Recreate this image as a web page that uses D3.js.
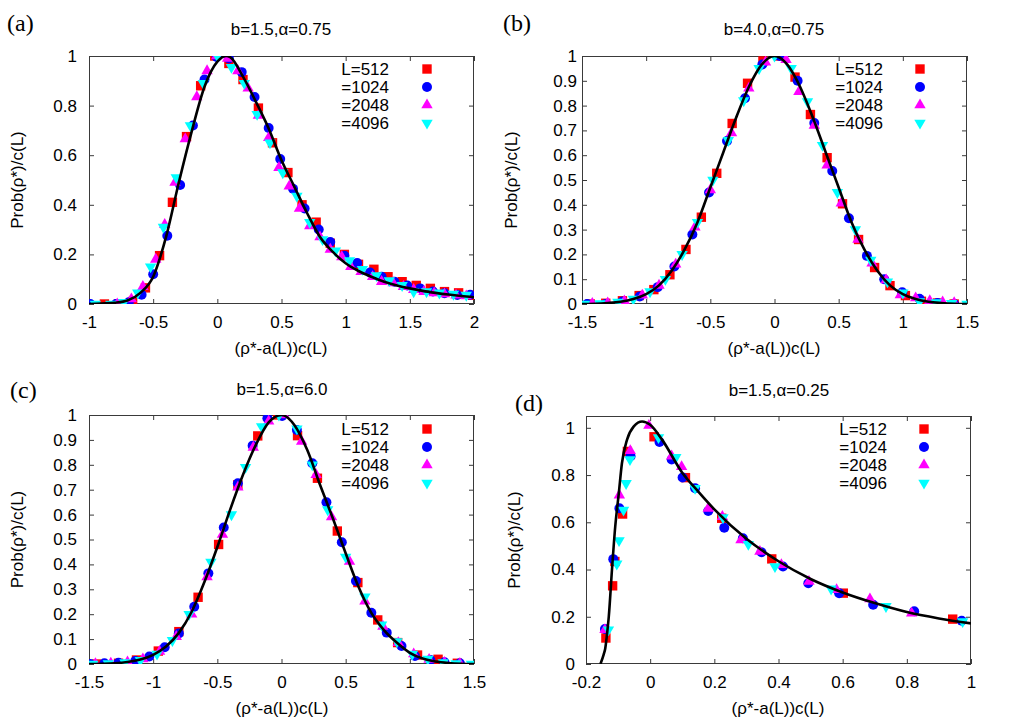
<!DOCTYPE html>
<html><head><meta charset="utf-8">
<script src="https://cdn.jsdelivr.net/npm/d3@7"></script>
<style>body{margin:0;background:#fff}svg{display:block}</style>
</head><body>
<svg id="chart" width="1014" height="723"></svg>
<script>
// ---------------- DATA ----------------
const seriesNames = ["L=512", "=1024", "=2048", "=4096"];
const seriesColors = ["#ff0000", "#0000ff", "#ff00ff", "#00ffff"];
const panelLabels = ["(a)", "(b)", "(c)", "(d)"];
const panelTitles = ["b=1.5,\u03b1=0.75", "b=4.0,\u03b1=0.75", "b=1.5,\u03b1=6.0", "b=1.5,\u03b1=0.25"];
const yAxisLabel = "Prob(\u03c1*)/c(L)";
const xAxisLabel = "(\u03c1*-a(L))c(L)";

const xTicksA = [-1, -0.5, 0, 0.5, 1, 1.5, 2];
const xTicksB = [-1.5, -1, -0.5, 0, 0.5, 1, 1.5];
const xTicksC = [-1.5, -1, -0.5, 0, 0.5, 1, 1.5];
const xTicksD = [-0.2, 0, 0.2, 0.4, 0.6, 0.8, 1];
const yTicksA = [0, 0.2, 0.4, 0.6, 0.8, 1];
const yTicksB = [0, 0.1, 0.2, 0.3, 0.4, 0.5, 0.6, 0.7, 0.8, 0.9, 1];
const yTicksC = [0, 0.1, 0.2, 0.3, 0.4, 0.5, 0.6, 0.7, 0.8, 0.9, 1];
const yTicksD = [0, 0.2, 0.4, 0.6, 0.8, 1];

// Panel (a)  b=1.5, alpha=0.75
const a512 = [[-0.88,0],[-0.77,0],[-0.66,0.01],[-0.56,0.065],[-0.45,0.195],[-0.35,0.41],[-0.24,0.675],[-0.13,0.88],[-0.02,1.0],[0.09,0.97],[0.2,0.905],[0.32,0.79],[0.43,0.65],[0.55,0.53],[0.66,0.40],[0.77,0.33],[0.88,0.245],[0.99,0.2],[1.1,0.16],[1.22,0.14],[1.33,0.11],[1.44,0.09],[1.55,0.075],[1.66,0.063],[1.77,0.05],[1.88,0.045],[1.99,0.035]];
const a1024 = [[-0.99,0],[-0.79,0],[-0.69,0.007],[-0.59,0.037],[-0.5,0.12],[-0.39,0.275],[-0.29,0.48],[-0.19,0.72],[-0.1,0.905],[-0.005,0.996],[0.09,0.99],[0.19,0.935],[0.29,0.835],[0.4,0.71],[0.49,0.585],[0.59,0.465],[0.68,0.385],[0.79,0.3],[0.88,0.25],[0.99,0.195],[1.09,0.165],[1.19,0.127],[1.28,0.11],[1.38,0.09],[1.48,0.075],[1.58,0.063],[1.68,0.05],[1.77,0.043],[1.87,0.036],[1.97,0.037]];
const a2048 = [[-0.78,0],[-0.67,0.02],[-0.58,0.07],[-0.48,0.18],[-0.41,0.32],[-0.33,0.49],[-0.25,0.665],[-0.16,0.835],[-0.08,0.94],[-0.005,1.0],[0.08,0.99],[0.16,0.94],[0.24,0.87],[0.32,0.76],[0.4,0.67],[0.48,0.55],[0.56,0.475],[0.64,0.385],[0.72,0.315],[0.8,0.27],[0.88,0.22],[0.97,0.19],[1.04,0.15],[1.12,0.13],[1.21,0.11],[1.28,0.09],[1.37,0.085],[1.45,0.07],[1.53,0.058],[1.61,0.05],[1.69,0.044],[1.77,0.04],[1.86,0.035],[1.94,0.032]];
const a4096 = [[-0.95,0],[-0.83,0],[-0.73,0.007],[-0.62,0.045],[-0.52,0.15],[-0.42,0.31],[-0.32,0.51],[-0.21,0.72],[-0.11,0.89],[0.0,1.0],[0.11,0.955],[0.21,0.89],[0.31,0.765],[0.41,0.65],[0.51,0.53],[0.62,0.435],[0.72,0.33],[0.82,0.26],[0.92,0.215],[1.03,0.175],[1.13,0.14],[1.24,0.115],[1.34,0.095],[1.44,0.075],[1.53,0.05],[1.63,0.05],[1.73,0.045],[1.84,0.04],[1.94,0.036]];
const aFit = [[-1,0],[-0.9,0.002],[-0.8,0.005],[-0.7,0.014],[-0.6,0.045],[-0.5,0.11],[-0.4,0.27],[-0.3,0.49],[-0.2,0.695],[-0.1,0.876],[0,0.977],[0.07,1.0],[0.1,0.995],[0.2,0.917],[0.3,0.816],[0.4,0.708],[0.5,0.58],[0.6,0.473],[0.7,0.366],[0.8,0.27],[0.9,0.21],[1.0,0.164],[1.1,0.133],[1.2,0.11],[1.3,0.09],[1.4,0.075],[1.5,0.063],[1.6,0.053],[1.7,0.045],[1.8,0.038],[1.9,0.032],[2.0,0.027]];

// Panel (b)  b=4.0, alpha=0.75
const b512 = [[-1.435,0],[-1.315,0.003],[-1.185,0.013],[-1.055,0.034],[-0.94,0.058],[-0.815,0.118],[-0.69,0.22],[-0.57,0.35],[-0.45,0.527],[-0.33,0.728],[-0.21,0.89],[-0.09,0.98],[0.04,1.0],[0.16,0.915],[0.28,0.764],[0.41,0.59],[0.53,0.404],[0.655,0.26],[0.78,0.147],[0.9,0.074],[1.02,0.034],[1.145,0.011],[1.27,0.004],[1.4,0]];
const b1024 = [[-1.46,0],[-1.315,0],[-1.185,0.01],[-1.05,0.03],[-0.91,0.068],[-0.78,0.151],[-0.64,0.28],[-0.51,0.45],[-0.37,0.657],[-0.23,0.83],[-0.095,0.966],[0.04,1.0],[0.18,0.9],[0.31,0.73],[0.45,0.536],[0.58,0.346],[0.72,0.194],[0.855,0.1],[0.995,0.047],[1.13,0.021],[1.27,0.004],[1.4,0]];
const b2048 = [[-1.42,0.002],[-1.3,0.004],[-1.17,0.012],[-1.03,0.035],[-0.9,0.075],[-0.77,0.16],[-0.62,0.31],[-0.5,0.46],[-0.335,0.69],[-0.2,0.87],[-0.07,0.975],[0.09,0.985],[0.19,0.856],[0.31,0.72],[0.41,0.56],[0.52,0.406],[0.65,0.26],[0.76,0.164],[0.87,0.097],[0.98,0.036],[1.1,0.024],[1.21,0.013],[1.31,0.008],[1.4,0.005]];
const b4096 = [[-1.48,0],[-1.36,0.002],[-1.22,0.008],[-1.1,0.02],[-0.97,0.05],[-0.85,0.1],[-0.72,0.2],[-0.6,0.33],[-0.48,0.5],[-0.36,0.66],[-0.24,0.82],[-0.12,0.95],[0,1.0],[0.13,0.95],[0.257,0.816],[0.374,0.64],[0.49,0.45],[0.63,0.3],[0.75,0.177],[0.88,0.09],[1.0,0.045],[1.13,0.01],[1.26,0.006],[1.38,0.003],[1.5,0]];
const bFit = [[-1.5,0],[-1.4,0.001],[-1.3,0.004],[-1.2,0.009],[-1.1,0.02],[-1.0,0.04],[-0.9,0.075],[-0.8,0.135],[-0.7,0.22],[-0.6,0.33],[-0.5,0.47],[-0.4,0.61],[-0.3,0.75],[-0.2,0.875],[-0.1,0.965],[0,1.0],[0.1,0.965],[0.2,0.875],[0.3,0.75],[0.4,0.61],[0.5,0.47],[0.6,0.33],[0.7,0.22],[0.8,0.135],[0.9,0.075],[1.0,0.04],[1.1,0.02],[1.2,0.009],[1.3,0.004],[1.4,0.001],[1.5,0]];

// Panel (c)  b=1.5, alpha=6.0
const c512 = [[-1.44,0],[-1.27,0.003],[-1.13,0.016],[-0.96,0.052],[-0.8,0.13],[-0.65,0.268],[-0.49,0.48],[-0.34,0.72],[-0.185,0.916],[-0.03,1.0],[0.125,0.917],[0.28,0.746],[0.435,0.534],[0.595,0.327],[0.75,0.177],[0.905,0.086],[1.06,0.036],[1.22,0.019],[1.37,0.003]];
const c1024 = [[-1.49,0],[-1.38,0.003],[-1.27,0.005],[-1.14,0.012],[-1.03,0.03],[-0.91,0.067],[-0.8,0.123],[-0.68,0.23],[-0.57,0.364],[-0.45,0.548],[-0.34,0.726],[-0.225,0.877],[-0.11,0.987],[0.005,0.996],[0.12,0.94],[0.24,0.806],[0.35,0.65],[0.47,0.489],[0.58,0.333],[0.7,0.206],[0.82,0.126],[0.935,0.072],[1.04,0.032],[1.16,0.016],[1.27,0.007],[1.39,0.003]];
const c2048 = [[-1.45,0.001],[-1.33,0.003],[-1.2,0.008],[-1.08,0.02],[-0.95,0.05],[-0.82,0.11],[-0.7,0.2],[-0.58,0.35],[-0.46,0.52],[-0.34,0.71],[-0.22,0.87],[-0.1,0.975],[0.02,1.0],[0.157,0.894],[0.27,0.76],[0.39,0.59],[0.53,0.412],[0.65,0.252],[0.79,0.151],[0.91,0.085],[1.03,0.04],[1.15,0.018],[1.27,0.006],[1.39,0.002]];
const c4096 = [[-1.47,0],[-1.35,0.002],[-1.22,0.006],[-1.1,0.015],[-0.97,0.04],[-0.85,0.095],[-0.72,0.2],[-0.55,0.41],[-0.39,0.6],[-0.28,0.79],[-0.155,0.954],[-0.02,1.0],[0.12,0.945],[0.24,0.8],[0.36,0.62],[0.5,0.43],[0.65,0.27],[0.78,0.157],[0.9,0.09],[1.02,0.04],[1.14,0.02],[1.26,0.006],[1.36,0.002],[1.48,0]];
const cFit = [[-1.5,0],[-1.4,0.001],[-1.3,0.003],[-1.2,0.008],[-1.1,0.018],[-1.0,0.037],[-0.9,0.07],[-0.8,0.125],[-0.7,0.21],[-0.6,0.33],[-0.5,0.47],[-0.4,0.62],[-0.3,0.76],[-0.2,0.88],[-0.1,0.97],[0,1.0],[0.1,0.96],[0.2,0.86],[0.3,0.72],[0.4,0.585],[0.5,0.445],[0.6,0.31],[0.7,0.205],[0.8,0.135],[0.9,0.085],[1.0,0.045],[1.1,0.022],[1.2,0.01],[1.3,0.004],[1.4,0.001],[1.5,0]];

// Panel (d)  b=1.5, alpha=0.25
const d512 = [[-0.138,0.11],[-0.117,0.331],[-0.11,0.434],[-0.086,0.635],[-0.071,0.9],[0.012,0.962],[0.11,0.789],[0.223,0.617],[0.379,0.445],[0.602,0.3],[0.943,0.19]];
const d1024 = [[-0.141,0.148],[-0.115,0.444],[-0.096,0.659],[-0.061,0.88],[0.029,0.94],[0.067,0.866],[0.101,0.79],[0.14,0.744],[0.181,0.648],[0.231,0.577],[0.289,0.532],[0.347,0.473],[0.414,0.413],[0.493,0.342],[0.589,0.3],[0.695,0.251],[0.823,0.223],[0.971,0.183]];
const d2048 = [[-0.141,0.145],[-0.096,0.715],[-0.062,0.903],[-0.004,1.01],[0.067,0.88],[0.098,0.835],[0.181,0.659],[0.225,0.624],[0.283,0.525],[0.342,0.476],[0.409,0.42],[0.495,0.349],[0.581,0.314],[0.685,0.275],[0.815,0.215]];
const d4096 = [[-0.13,0.145],[-0.104,0.424],[-0.097,0.523],[-0.083,0.652],[-0.075,0.765],[-0.063,0.866],[0.026,0.959],[0.08,0.875],[0.14,0.744],[0.227,0.62],[0.306,0.507],[0.389,0.413],[0.564,0.318],[0.735,0.244],[0.974,0.18]];
const dFit = [[-0.155,0],[-0.145,0.04],[-0.14,0.066],[-0.135,0.12],[-0.129,0.2],[-0.119,0.4],[-0.109,0.58],[-0.098,0.72],[-0.088,0.85],[-0.072,0.95],[-0.051,1.006],[-0.025,1.027],[0,1.013],[0.037,0.95],[0.1,0.81],[0.15,0.73],[0.2,0.655],[0.3,0.53],[0.4,0.435],[0.5,0.36],[0.6,0.303],[0.7,0.258],[0.8,0.22],[0.9,0.193],[1.0,0.172]];

// ---------------- LAYOUT ----------------
const panels = [
  {box:{l:89,t:56,r:474,b:304}, xd:[-1,2], xt:xTicksA, yd:[0,1], yt:yTicksA, ypad:12,
   lab:[7,31], title:[281,35], ylab:23, xlab:[281,354], leg:{tx:389,mx:427,y:75},
   series:[a512,a1024,a2048,a4096], fit:aFit},
  {box:{l:582,t:56,r:967,b:304}, xd:[-1.5,1.5], xt:xTicksB, yd:[0,1], yt:yTicksB, ypad:5,
   lab:[503,31], title:[774,35], ylab:517, xlab:[774,354], leg:{tx:883,mx:920,y:75},
   series:[b512,b1024,b2048,b4096], fit:bFit},
  {box:{l:89,t:415,r:474,b:664}, xd:[-1.5,1.5], xt:xTicksC, yd:[0,1], yt:yTicksC, ypad:12,
   lab:[10,398], title:[282,395], ylab:23, xlab:[282,714], leg:{tx:389,mx:427,y:435},
   series:[c512,c1024,c2048,c4096], fit:cFit},
  {box:{l:586,t:416,r:971,b:664}, xd:[-0.2,1], xt:xTicksD, yd:[0,1.05], yt:yTicksD, ypad:11,
   lab:[515,411], title:[779,396], ylab:520, xlab:[778,714], leg:{tx:887,mx:924,y:435},
   series:[d512,d1024,d2048,d4096], fit:dFit}
];

const FONT = "'Liberation Sans', Arial, sans-serif";
const FS = 17;
const frameColor = "#3a3a3a";
const fmt = v => String(Math.round(v * 100) / 100);

const symbols = [
  d3.symbol().type(d3.symbolSquare).size(88),
  d3.symbol().type(d3.symbolCircle).size(78),
  d3.symbol().type(d3.symbolTriangle).size(56),
  d3.symbol().type(d3.symbolTriangle).size(56)
];
const rotations = [0, 0, 0, 180];

const svg = d3.select("#chart");
svg.append("rect").attr("width", 1014).attr("height", 723).attr("fill", "#fff");

panels.forEach((p, i) => {
  const {l, t, r, b} = p.box;
  const x = d3.scaleLinear().domain(p.xd).range([l, r]);
  const y = d3.scaleLinear().domain(p.yd).range([b, t]);
  const g = svg.append("g");

  const clipId = "clip" + i;
  svg.append("clipPath").attr("id", clipId)
    .append("rect").attr("x", l).attr("y", t).attr("width", r - l).attr("height", b - t);

  // axes with inward ticks (mirrored on top/right)
  const ax = (axis, tr, labels) => {
    const a = g.append("g").attr("transform", tr).call(axis);
    a.select(".domain").remove();
    a.selectAll(".tick line").attr("stroke", frameColor).attr("stroke-width", 1);
    a.selectAll(".tick text").attr("fill", "#000").style("font-family", FONT).style("font-size", FS + "px");
    if (!labels) a.selectAll(".tick text").remove();
    return a;
  };
  ax(d3.axisBottom(x).tickValues(p.xt).tickFormat(fmt).tickSizeInner(-5).tickSizeOuter(0).tickPadding(12), `translate(0,${b})`, true);
  ax(d3.axisTop(x).tickValues(p.xt).tickSizeInner(-5).tickSizeOuter(0), `translate(0,${t})`, false);
  ax(d3.axisLeft(y).tickValues(p.yt).tickFormat(fmt).tickSizeInner(-5).tickSizeOuter(0).tickPadding(p.ypad), `translate(${l},0)`, true);
  ax(d3.axisRight(y).tickValues(p.yt).tickSizeInner(-5).tickSizeOuter(0), `translate(${r},0)`, false);

  // frame
  g.append("rect").attr("x", l + 0.5).attr("y", t + 0.5).attr("width", r - l - 1).attr("height", b - t - 1)
    .attr("fill", "none").attr("stroke", frameColor).attr("stroke-width", 1);

  // markers
  const mg = g.append("g").attr("clip-path", `url(#${clipId})`);
  p.series.forEach((s, k) => {
    mg.append("g").selectAll("path").data(s).join("path")
      .attr("d", symbols[k])
      .attr("transform", d => `translate(${x(d[0])},${y(d[1])}) rotate(${rotations[k]})`)
      .attr("fill", seriesColors[k]);
  });

  // fit curve
  const line = d3.line().x(d => x(d[0])).y(d => y(d[1])).curve(d3.curveMonotoneX);
  g.append("path").datum(p.fit).attr("d", line).attr("fill", "none")
    .attr("stroke", "#000").attr("stroke-width", 2.6).attr("clip-path", `url(#${clipId})`);

  // legend
  seriesNames.forEach((nm, k) => {
    const yy = p.leg.y + k * 18;
    g.append("text").attr("x", p.leg.tx).attr("y", yy).attr("text-anchor", "end")
      .style("font-family", FONT).style("font-size", FS + "px").text(nm);
    g.append("path").attr("d", symbols[k])
      .attr("transform", `translate(${p.leg.mx},${yy - 6}) rotate(${rotations[k]})`)
      .attr("fill", seriesColors[k]);
  });

  // panel label
  g.append("text").attr("x", p.lab[0]).attr("y", p.lab[1])
    .style("font-family", "'Liberation Serif', 'Times New Roman', serif").style("font-size", "24px").text(panelLabels[i]);
  // title
  g.append("text").attr("x", p.title[0]).attr("y", p.title[1]).attr("text-anchor", "middle")
    .style("font-family", FONT).style("font-size", FS + "px").text(panelTitles[i]);
  // y label
  g.append("text").attr("transform", `translate(${p.ylab},${(t + b) / 2}) rotate(-90)`).attr("text-anchor", "middle")
    .style("font-family", FONT).style("font-size", FS + "px").text(yAxisLabel);
  // x label
  g.append("text").attr("x", p.xlab[0]).attr("y", p.xlab[1]).attr("text-anchor", "middle")
    .style("font-family", FONT).style("font-size", FS + "px").text(xAxisLabel);
});
</script>
</body></html>
